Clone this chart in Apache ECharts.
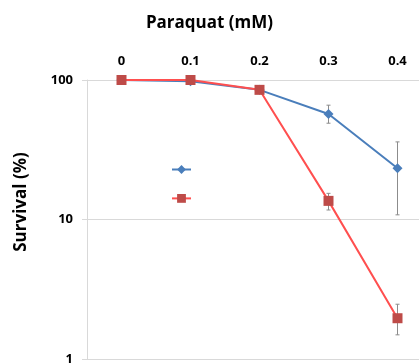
<!DOCTYPE html>
<html><head><meta charset="utf-8">
<script src="https://cdn.jsdelivr.net/npm/echarts@6/dist/echarts.min.js"></script>
<style>html,body{margin:0;padding:0;background:#fff}#c{width:419px;height:364px}</style>
</head><body><div id="c"></div>
<script>
var categories = ['0', '0.1', '0.2', '0.3', '0.4'];
var blueValues = [100, 98, 85, 57, 23.3];
var blueErrLow = [100, 98, 85, 49, 10.8];
var blueErrHigh = [100, 98, 85, 66, 36];
var redValues = [100, 100, 85, 13.6, 1.96];
var redErrLow = [100, 100, 85, 11.7, 1.49];
var redErrHigh = [100, 100, 85, 15.4, 2.47];
var yTicks = [1, 10, 100];

function errData(lo, hi) {
  return categories.map(function (c, i) { return [i, lo[i], hi[i]]; });
}
function errRender(params, api) {
  var x = api.value(0);
  var lo = api.coord([x, api.value(1)]);
  var hi = api.coord([x, api.value(2)]);
  if (Math.abs(lo[1] - hi[1]) < 2) return null;
  var st = { stroke: '#8c8c8c', lineWidth: 1 };
  return {
    type: 'group',
    children: [
      { type: 'line', shape: { x1: lo[0], y1: lo[1], x2: hi[0], y2: hi[1] }, style: st },
      { type: 'line', shape: { x1: lo[0] - 2, y1: lo[1], x2: lo[0] + 2, y2: lo[1] }, style: st },
      { type: 'line', shape: { x1: hi[0] - 2, y1: hi[1], x2: hi[0] + 2, y2: hi[1] }, style: st }
    ]
  };
}

var chart = echarts.init(document.getElementById('c'));
var labelFont = { fontFamily: 'Open Sans', fontWeight: 'bold', fontSize: 13, color: '#000' };
chart.setOption({
  animation: false,
  title: {
    text: 'Paraquat (mM)', left: 'center', top: 10,
    textStyle: { fontFamily: 'Open Sans', fontWeight: 'bold', fontSize: 17, color: '#000' }
  },
  graphic: [{
    type: 'text', x: 21, y: 202, rotation: Math.PI / 2,
    style: { text: 'Survival (%)', align: 'center', verticalAlign: 'middle',
      font: 'bold 17px "Open Sans"', fill: '#000' }
  }],
  legend: {
    orient: 'vertical', left: 166, top: 159, itemWidth: 19, itemHeight: 11, itemGap: 19,
    formatter: function () { return ''; },
    data: ['Blue', 'Red']
  },
  grid: { left: 87, width: 345, top: 80, bottom: 5, containLabel: false, outerBoundsMode: 'none' },
  xAxis: {
    type: 'category', position: 'top', data: categories, boundaryGap: true,
    axisLine: { show: true, lineStyle: { color: '#d9d9d9' } },
    axisTick: { show: false },
    axisLabel: Object.assign({ margin: 12 }, labelFont)
  },
  yAxis: {
    type: 'log', logBase: 10, min: 1, max: 100,
    axisLine: { show: true, lineStyle: { color: '#d9d9d9' } },
    axisTick: { show: true, inside: false, length: 5, lineStyle: { color: '#d9d9d9' } },
    splitLine: { show: true, lineStyle: { color: '#d9d9d9' } },
    axisLabel: Object.assign({ margin: 14, formatter: function (v) { return yTicks.indexOf(v) >= 0 ? String(v) : ''; } }, labelFont)
  },
  series: [
    { type: 'custom', renderItem: errRender, data: errData(blueErrLow, blueErrHigh), z: 1, silent: true },
    { type: 'custom', renderItem: errRender, data: errData(redErrLow, redErrHigh), z: 1, silent: true },
    {
      name: 'Blue', type: 'line', data: blueValues, z: 2,
      symbol: 'diamond', symbolSize: 10,
      itemStyle: { color: '#4a7ebb' }, lineStyle: { color: '#4a7ebb', width: 2 }
    },
    {
      name: 'Red', type: 'line', data: redValues, z: 3,
      symbol: 'rect', symbolSize: 10,
      itemStyle: { color: '#be4b48' }, lineStyle: { color: '#ff4f4f', width: 2 }
    }
  ]
});
</script></body></html>
